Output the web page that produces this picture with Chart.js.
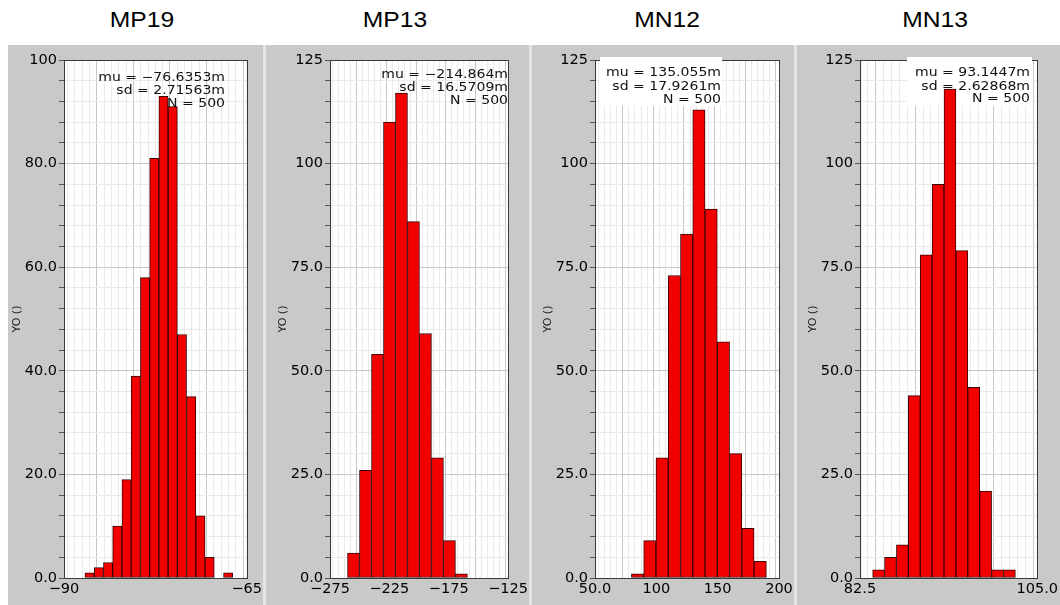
<!DOCTYPE html>
<html>
<head>
<meta charset="utf-8">
<script src="https://cdn.jsdelivr.net/npm/chart.js@4.4.1/dist/chart.umd.min.js"></script>
<style>
  html, body { margin: 0; padding: 0; background: #fff; }
  body { width: 1060px; height: 605px; position: relative; overflow: hidden; font-family: "Liberation Sans", Arial, sans-serif; }
  .bg { position: absolute; top: 45px; height: 560px; background: #c9c9c9; }
  .sep { position: absolute; top: 45px; height: 560px; width: 3px; background: #e6e6e6; }
  .title { position: absolute; top: 9px; width: 200px; margin-left: -100px; text-align: center;
           font-size: 22px; line-height: 22px; color: #000; transform: scaleX(1.12); }
  canvas { position: absolute; top: 0; }
</style>
</head>
<body>
<div class="bg" style="left:8px; width:1052px"></div>
<div class="sep" style="left:263px"></div>
<div class="sep" style="left:529px"></div>
<div class="sep" style="left:794px"></div>

<div class="title" style="left:142px">MP19</div>
<div class="title" style="left:395px">MP13</div>
<div class="title" style="left:667px">MN12</div>
<div class="title" style="left:935px">MN13</div>

<canvas id="c0" width="265" height="605" style="left:0px"></canvas>
<canvas id="c1" width="265" height="605" style="left:266px"></canvas>
<canvas id="c2" width="265" height="605" style="left:531px"></canvas>
<canvas id="c3" width="265" height="605" style="left:796px"></canvas>

<script>
// histogram bin centres and counts
const binsMP19 = [-86.50, -85.23, -83.97, -82.71, -81.44, -80.18, -78.91, -77.65, -76.39, -75.12, -73.86, -72.59, -71.33, -70.07, -68.80, -67.54];
const countsMP19 = [1, 2, 3, 10, 19, 39, 58, 81, 93, 91, 47, 35, 12, 4, 0, 1];

const binsMP13 = [-255.2, -245.1, -235.0, -224.9, -214.8, -204.7, -194.6, -184.5, -174.4, -164.3];
const countsMP13 = [6, 26, 54, 110, 117, 86, 59, 29, 9, 1];

const binsMN12 = [84.7, 94.7, 104.7, 114.7, 124.7, 134.7, 144.7, 154.7, 164.7, 174.7, 184.7];
const countsMN12 = [1, 9, 29, 73, 83, 113, 89, 57, 30, 12, 4];

const binsMN13 = [84.86, 86.37, 87.88, 89.39, 90.90, 92.41, 93.92, 95.43, 96.94, 98.45, 99.96, 101.47];
const countsMN13 = [2, 5, 8, 44, 78, 95, 118, 79, 46, 21, 2, 2];

// tick labels
const xTicksMP19 = [-90, -65];
const xLabelsMP19 = ['\u221290', '\u221265'];
const xTicksMP13 = [-275, -225, -175, -125];
const xLabelsMP13 = ['\u2212275', '\u2212225', '\u2212175', '\u2212125'];
const xTicksMN12 = [50, 100, 150, 200];
const xLabelsMN12 = ['50.0', '100', '150', '200'];
const xTicksMN13 = [82.5, 105];
const xLabelsMN13 = ['82.5', '105.0'];

const yTicks100 = [0, 20, 40, 60, 80, 100];
const yLabels100 = ['0.0', '20.0', '40.0', '60.0', '80.0', '100'];
const yTicks125 = [0, 25, 50, 75, 100, 125];
const yLabels125 = ['0.0', '25.0', '50.0', '75.0', '100', '125'];

// statistics boxes
const statsMP19 = ['mu = \u221276.6353m', 'sd = 2.71563m', 'N = 500'];
const statsMP13 = ['mu = \u2212214.864m', 'sd = 16.5709m', 'N = 500'];
const statsMN12 = ['mu = 135.055m', 'sd = 17.9261m', 'N = 500'];
const statsMN13 = ['mu = 93.1447m', 'sd = 2.62868m', 'N = 500'];

const panels = [
    { id: 'c0', bins: binsMP19, counts: countsMP19, xMin: -90, xMax: -65, xMinor: 1, xMajor: 5,
      xTicks: xTicksMP19, xLabels: xLabelsMP19, yMax: 100, yMinor: 4, yMajor: 20,
      yTicks: yTicks100, yLabels: yLabels100, stats: statsMP19, textRight: 225, textY: [78, 91, 103.5], box: null },
    { id: 'c1', bins: binsMP13, counts: countsMP13, xMin: -275, xMax: -125, xMinor: 5, xMajor: 25,
      xTicks: xTicksMP13, xLabels: xLabelsMP13, yMax: 125, yMinor: 5, yMajor: 25,
      yTicks: yTicks125, yLabels: yLabels125, stats: statsMP13, textRight: 242, textY: [75, 88, 101], box: null },
    { id: 'c2', bins: binsMN12, counts: countsMN12, xMin: 50, xMax: 200, xMinor: 5, xMajor: 25,
      xTicks: xTicksMN12, xLabels: xLabelsMN12, yMax: 125, yMinor: 5, yMajor: 25,
      yTicks: yTicks125, yLabels: yLabels125, stats: statsMN12, textRight: 190, textY: [73, 87, 100], box: [69, 57, 191, 106] },
    { id: 'c3', bins: binsMN13, counts: countsMN13, xMin: 82.5, xMax: 105, xMinor: 1, xMajor: 5,
      xTicks: xTicksMN13, xLabels: xLabelsMN13, yMax: 125, yMinor: 5, yMajor: 25,
      yTicks: yTicks125, yLabels: yLabels125, stats: statsMN13, textRight: 234, textY: [73, 87, 99], box: [111, 57, 236, 106] },
];

const MAJOR_GRID = '#c8c8c8';
const MINOR_GRID = '#eaeaea';

function gridTicks(min, max, step) {
    const out = [{ value: min }];
    for (let i = Math.ceil(min / step - 1e-9); i * step < max - 1e-9; i++) {
        const v = Math.round(i * step * 1000) / 1000;
        if (v > min + 1e-9) out.push({ value: v });
    }
    out.push({ value: max });
    return out;
}

function gridColor(c, major) {
    if (!c.tick) return MAJOR_GRID;
    const r = c.tick.value / major;
    return Math.abs(r - Math.round(r)) < 1e-6 ? MAJOR_GRID : MINOR_GRID;
}

function labelFor(ticks, labels, value) {
    const i = ticks.findIndex(t => Math.abs(t - value) < 1e-6);
    return i >= 0 ? labels[i] : '';
}

function deco(p) {
    return {
        id: 'deco',
        beforeDraw(chart) {
            const { ctx, chartArea: a } = chart;
            ctx.save();
            ctx.fillStyle = '#ffffff';
            ctx.fillRect(a.left, a.top, a.right - a.left, a.bottom - a.top);
            ctx.restore();
        },
        beforeDatasetsDraw(chart) {
            const { ctx, chartArea: a } = chart;
            ctx.save();
            ctx.strokeStyle = '#3a3a3a';
            ctx.lineWidth = 1;
            ctx.strokeRect(Math.round(a.left) + 0.5, Math.round(a.top) + 0.5,
                Math.round(a.right - a.left), Math.round(a.bottom - a.top));
            if (p.box) {
                ctx.fillStyle = '#ffffff';
                ctx.fillRect(p.box[0], p.box[1], p.box[2] - p.box[0], p.box[3] - p.box[1]);
            }
            ctx.restore();
        },
        afterDatasetsDraw(chart) {
            const ctx = chart.ctx;
            ctx.save();
            ctx.font = '12px "DejaVu Sans"';
            ctx.fillStyle = '#111';
            ctx.textAlign = 'right';
            ctx.textBaseline = 'middle';
            p.stats.forEach((line, i) => {
                ctx.save();
                ctx.translate(p.textRight, p.textY[i]);
                ctx.scale(1.17, 1);
                ctx.fillText(line, 0, 0);
                ctx.restore();
            });
            ctx.restore();
        }
    };
}

const tickFont = { family: 'DejaVu Sans', size: 14.5 };

panels.forEach(p => {
    const ctx = document.getElementById(p.id).getContext('2d');
    new Chart(ctx, {
        type: 'bar',
        data: {
            datasets: [{
                data: p.bins.map((b, i) => ({ x: b, y: p.counts[i] })),
                backgroundColor: '#f20000',
                borderColor: '#3a0404',
                borderWidth: 1,
                borderSkipped: false,
                barPercentage: 1,
                categoryPercentage: 1,
                xAxisID: 'x',
                yAxisID: 'y',
            }],
        },
        options: {
            responsive: false,
            animation: false,
            devicePixelRatio: 1,
            layout: { padding: { top: 60, right: 17, bottom: 0, left: 0 }, autoPadding: false },
            plugins: {
                legend: { display: false },
                tooltip: { enabled: false },
            },
            scales: {
                x: {
                    type: 'linear',
                    position: 'bottom',
                    min: p.xMin,
                    max: p.xMax,
                    offset: false,
                    grid: { display: false, drawTicks: false },
                    border: { display: false },
                    ticks: {
                        autoSkip: false, maxRotation: 0, minRotation: 0, padding: 3,
                        color: '#000', font: tickFont,
                        callback: v => labelFor(p.xTicks, p.xLabels, v),
                    },
                    afterBuildTicks: s => { s.ticks = p.xTicks.map(v => ({ value: v })); },
                    afterFit: s => { s.height = 27; },
                },
                xGrid: {
                    type: 'linear',
                    position: 'top',
                    min: p.xMin,
                    max: p.xMax,
                    offset: false,
                    ticks: { display: false },
                    border: { display: false },
                    grid: {
                        drawTicks: false,
                        color: c => gridColor(c, p.xMajor),
                    },
                    afterBuildTicks: s => { s.ticks = gridTicks(p.xMin, p.xMax, p.xMinor); },
                    afterFit: s => { s.height = 0; },
                },
                y: {
                    type: 'linear',
                    min: 0,
                    max: p.yMax,
                    border: { display: false },
                    grid: {
                        tickLength: 5,
                        tickColor: '#555',
                        color: c => gridColor(c, p.yMajor),
                    },
                    ticks: {
                        autoSkip: false, padding: 2, color: '#000', font: tickFont,
                        callback: v => labelFor(p.yTicks, p.yLabels, v),
                    },
                    title: {
                        display: true, text: 'YO ()', color: '#222',
                        font: { family: 'DejaVu Sans', size: 11 },
                        padding: { top: 11, bottom: 0 },
                    },
                    afterBuildTicks: s => { s.ticks = gridTicks(0, p.yMax, p.yMinor); },
                    afterFit: s => { s.width = 64; },
                },
            },
        },
        plugins: [deco(p)],
    });
});
</script>
</body>
</html>
